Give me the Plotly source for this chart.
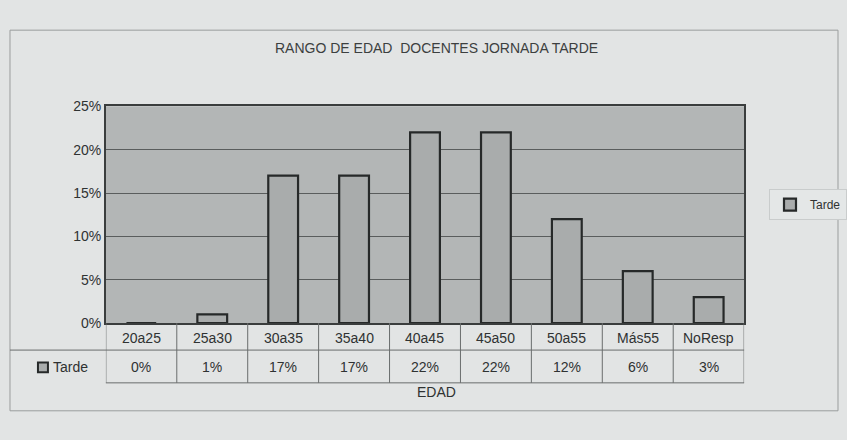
import plotly.graph_objects as go

# Age ranges of afternoon-shift teachers
categorias = ["20a25", "25a30", "30a35", "35a40", "40a45", "45a50", "50a55", "Más55", "NoResp"]
tarde = [0.00, 0.01, 0.17, 0.17, 0.22, 0.22, 0.12, 0.06, 0.03]
y_ticks = [0, 0.05, 0.10, 0.15, 0.20, 0.25]
serie = "Tarde"

W, H = 847, 440
px_x = lambda p: p / W
px_y = lambda p: 1 - p / H

plot_left, plot_right = 106, 745
plot_top, plot_bottom = 102, 327
row1_bottom, row2_bottom = 355, 389

FONT = "Liberation Sans, Arial, sans-serif"
TXT = "#2f3232"
LINE = "#3a3d3d"

fig = go.Figure()
fig.add_trace(go.Bar(
    x=categorias, y=tarde, name=serie,
    marker=dict(color="#a9acac", line=dict(color="#262929", width=2.2)),
    hoverinfo="x+y",
))

fig.update_layout(
    width=W, height=H,
    margin=dict(l=0, r=0, t=0, b=0),
    paper_bgcolor="#e2e4e4",
    plot_bgcolor="#b3b6b6",
    bargap=0.58,
    font=dict(family=FONT, color=TXT, size=14),
    showlegend=True,
    legend=dict(
        x=px_x(770), y=px_y(188), xanchor="left", yanchor="top",
        bgcolor="#e4e7e7", bordercolor="#c9cccc", borderwidth=1,
        font=dict(size=12, color=TXT),
        itemwidth=30,
    ),
    xaxis=dict(
        domain=[px_x(plot_left), px_x(plot_right)],
        range=[-0.5, len(categorias) - 0.5],
        showticklabels=False, ticks="",
        showline=True, linecolor=LINE, linewidth=1.5, mirror=True,
        showgrid=False, zeroline=False, fixedrange=True,
    ),
    yaxis=dict(
        domain=[px_y(plot_bottom), px_y(plot_top)],
        range=[0, 0.25],
        tickvals=y_ticks, tickformat=".0%",
        tickfont=dict(size=14, color=TXT),
        ticks="", ticklen=0,
        showline=True, linecolor=LINE, linewidth=1.5, mirror=True,
        showgrid=True, gridcolor="#5a5d5d", gridwidth=1,
        zeroline=False, fixedrange=True,
    ),
)

shapes = []
# outer chart frame
shapes.append(dict(type="rect", xref="paper", yref="paper",
                   x0=px_x(10), x1=px_x(839), y0=px_y(418), y1=px_y(23),
                   line=dict(color="#9a9d9d", width=1), layer="below"))
# data table: vertical cell borders
for i in range(len(categorias) + 1):
    shapes.append(dict(type="line", xref="x", yref="paper",
                       x0=i - 0.5, x1=i - 0.5,
                       y0=px_y(plot_bottom), y1=px_y(row2_bottom),
                       line=dict(color="#6a6d6d", width=1)))
# data table: horizontal borders
shapes.append(dict(type="line", xref="paper", yref="paper",
                   x0=px_x(10), x1=px_x(plot_right),
                   y0=px_y(row1_bottom), y1=px_y(row1_bottom),
                   line=dict(color="#6a6d6d", width=1)))
shapes.append(dict(type="line", xref="paper", yref="paper",
                   x0=px_x(plot_left), x1=px_x(plot_right),
                   y0=px_y(row2_bottom), y1=px_y(row2_bottom),
                   line=dict(color="#6a6d6d", width=1)))
# legend key in the table
shapes.append(dict(type="rect", xref="paper", yref="paper",
                   x0=px_x(38), x1=px_x(48), y0=px_y(378), y1=px_y(368),
                   fillcolor="#a9acac", line=dict(color="#262929", width=2)))
fig.update_layout(shapes=shapes)

annotations = [
    dict(text="RANGO DE EDAD  DOCENTES JORNADA TARDE", xref="paper", yref="paper",
         x=px_x(437), y=px_y(42), xanchor="center", yanchor="middle",
         showarrow=False, font=dict(size=14, color="#3c3f3f")),
    dict(text=serie, xref="paper", yref="paper", x=px_x(51), y=px_y(373),
         xanchor="left", yanchor="middle", showarrow=False,
         font=dict(size=14, color=TXT)),
    dict(text="EDAD", xref="paper", yref="paper", x=px_x(437), y=px_y(399),
         xanchor="center", yanchor="middle", showarrow=False,
         font=dict(size=14, color=TXT)),
]
for c, v in zip(categorias, tarde):
    annotations.append(dict(text=c, xref="x", yref="paper", x=c,
                            y=px_y((plot_bottom + row1_bottom) / 2 + 1),
                            xanchor="center", yanchor="middle",
                            showarrow=False, font=dict(size=14, color=TXT)))
    annotations.append(dict(text=f"{v:.0%}", xref="x", yref="paper", x=c,
                            y=px_y((row1_bottom + row2_bottom) / 2 + 1),
                            xanchor="center", yanchor="middle",
                            showarrow=False, font=dict(size=14, color=TXT)))
fig.update_layout(annotations=annotations)

fig.write_html("out.html")
